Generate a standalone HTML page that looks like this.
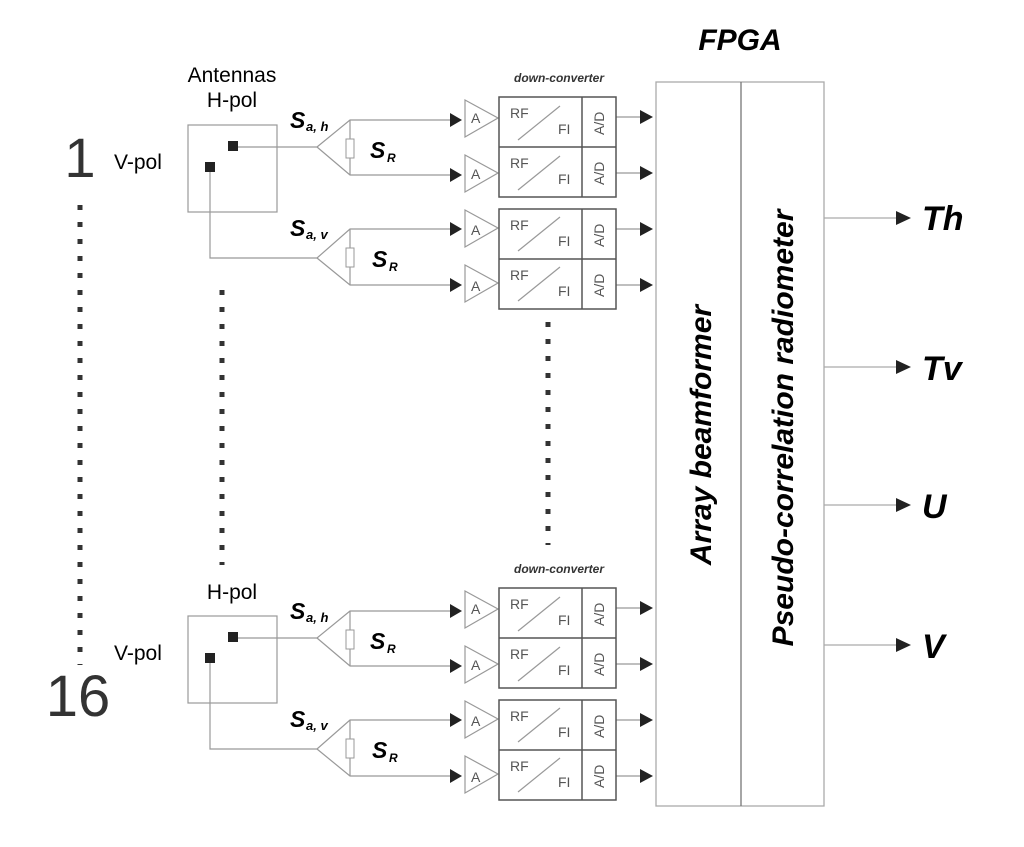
<!DOCTYPE html>
<html><head><style>body{margin:0;background:#fff}svg{display:block}</style></head>
<body>
<svg width="1024" height="847" viewBox="0 0 1024 847" xmlns="http://www.w3.org/2000/svg" font-family="Liberation Sans, sans-serif">
<defs>
<g id="blk">
 <rect x="188" y="125" width="89" height="87" fill="none" stroke="#999" stroke-width="1.2"/>
 <rect x="228" y="141" width="10" height="10" fill="#222"/>
 <rect x="205" y="162" width="10" height="10" fill="#222"/>
 <g fill="none" stroke="#999" stroke-width="1.2">
  <polyline points="238,147 317,147 350,120 460,120"/>
  <polyline points="317,147 350,175 460,175"/>
  <line x1="350" y1="120" x2="350" y2="175"/>
  <polyline points="210,172 210,258 317,258 350,229 460,229"/>
  <polyline points="317,258 350,285 460,285"/>
  <line x1="350" y1="229" x2="350" y2="285"/>
 </g>
 <rect x="346" y="139" width="8" height="19" fill="#fff" stroke="#999"/>
 <rect x="346" y="248" width="8" height="19" fill="#fff" stroke="#999"/>
 <text x="290" y="128" font-size="23" font-style="italic" font-weight="bold">S</text><text x="306" y="131" font-size="13" font-style="italic" font-weight="bold">a, h</text>
 <text x="290" y="236" font-size="23" font-style="italic" font-weight="bold">S</text><text x="306" y="239" font-size="13" font-style="italic" font-weight="bold">a, v</text>
 <text x="370" y="158" font-size="23" font-style="italic" font-weight="bold">S</text><text x="387" y="162" font-size="12" font-style="italic" font-weight="bold">R</text>
 <text x="372" y="267" font-size="23" font-style="italic" font-weight="bold">S</text><text x="389" y="271" font-size="12" font-style="italic" font-weight="bold">R</text>
 <g fill="#222">
  <polygon points="450,113 462,120 450,127"/><polygon points="450,168 462,175 450,182"/>
  <polygon points="450,222 462,229 450,236"/><polygon points="450,278 462,285 450,292"/>
 </g>
 <g fill="none" stroke="#999" stroke-width="1.2">
  <polygon points="465,100 498,118 465,137"/><polygon points="465,155 498,173 465,192"/>
  <polygon points="465,210 498,228 465,247"/><polygon points="465,265 498,283 465,302"/>
  <line x1="616" y1="117" x2="640" y2="117"/><line x1="616" y1="173" x2="640" y2="173"/>
  <line x1="616" y1="229" x2="640" y2="229"/><line x1="616" y1="285" x2="640" y2="285"/>
  <line x1="518" y1="140" x2="560" y2="106"/><line x1="518" y1="190" x2="560" y2="156"/>
  <line x1="518" y1="251" x2="560" y2="217"/><line x1="518" y1="301" x2="560" y2="267"/>
 </g>
 <g fill="none" stroke="#555" stroke-width="1.5">
  <rect x="499" y="97" width="117" height="100"/><line x1="499" y1="147" x2="616" y2="147"/><line x1="582" y1="97" x2="582" y2="197"/>
  <rect x="499" y="209" width="117" height="100"/><line x1="499" y1="259" x2="616" y2="259"/><line x1="582" y1="209" x2="582" y2="309"/>
 </g>
 <g fill="#222">
  <polygon points="640,110 653,117 640,124"/><polygon points="640,166 653,173 640,180"/>
  <polygon points="640,222 653,229 640,236"/><polygon points="640,278 653,285 640,292"/>
 </g>
 <g font-size="14" fill="#555">
  <text x="471" y="123">A</text><text x="471" y="179">A</text><text x="471" y="235">A</text><text x="471" y="291">A</text>
  <text x="510" y="118">RF</text><text x="558" y="134">FI</text>
  <text x="510" y="168">RF</text><text x="558" y="184">FI</text>
  <text x="510" y="230">RF</text><text x="558" y="246">FI</text>
  <text x="510" y="280">RF</text><text x="558" y="296">FI</text>
  <text transform="translate(604,135) rotate(-90)" font-size="14">A/D</text>
  <text transform="translate(604,185) rotate(-90)" font-size="14">A/D</text>
  <text transform="translate(604,247) rotate(-90)" font-size="14">A/D</text>
  <text transform="translate(604,297) rotate(-90)" font-size="14">A/D</text>
 </g>
 <text x="559" y="82" font-size="12" font-style="italic" font-weight="bold" fill="#333" text-anchor="middle">down-converter</text>
 <text x="114" y="169" font-size="21">V-pol</text>
</g>
</defs>
<use href="#blk"/>
<use href="#blk" transform="translate(0,491)"/>
<text x="232" y="82" font-size="21" text-anchor="middle">Antennas</text>
<text x="232" y="107" font-size="21" text-anchor="middle">H-pol</text>
<text x="232" y="599" font-size="21" text-anchor="middle">H-pol</text>
<text x="80" y="177" font-size="56" fill="#333" text-anchor="middle">1</text>
<text x="78" y="716" font-size="58" fill="#333" text-anchor="middle">16</text>
<line x1="80" y1="205" x2="80" y2="665" stroke="#333" stroke-width="5" stroke-dasharray="5,12"/>
<line x1="222" y1="290" x2="222" y2="565" stroke="#333" stroke-width="5" stroke-dasharray="5,12"/>
<line x1="548" y1="322" x2="548" y2="545" stroke="#333" stroke-width="5" stroke-dasharray="5,12"/>
<text x="740" y="50" font-size="30" font-style="italic" font-weight="bold" text-anchor="middle">FPGA</text>
<rect x="656" y="82" width="168" height="724" fill="none" stroke="#aaa" stroke-width="1.3"/>
<line x1="741" y1="82" x2="741" y2="806" stroke="#777" stroke-width="1.3"/>
<text transform="translate(711,435) rotate(-90)" font-size="30" font-style="italic" font-weight="bold" text-anchor="middle">Array beamformer</text>
<text transform="translate(793,428) rotate(-90)" font-size="30" font-style="italic" font-weight="bold" text-anchor="middle">Pseudo-correlation radiometer</text>
<g stroke="#aaa" stroke-width="1.3">
 <line x1="824" y1="218" x2="898" y2="218"/><line x1="824" y1="367" x2="898" y2="367"/>
 <line x1="824" y1="505" x2="898" y2="505"/><line x1="824" y1="645" x2="898" y2="645"/>
</g>
<g fill="#222">
 <polygon points="896,211 911,218 896,225"/><polygon points="896,360 911,367 896,374"/>
 <polygon points="896,498 911,505 896,512"/><polygon points="896,638 911,645 896,652"/>
</g>
<g font-size="34" font-style="italic" font-weight="bold">
 <text x="922" y="230">Th</text><text x="922" y="380">Tv</text><text x="922" y="518">U</text><text x="922" y="658">V</text>
</g>
</svg>
</body></html>
